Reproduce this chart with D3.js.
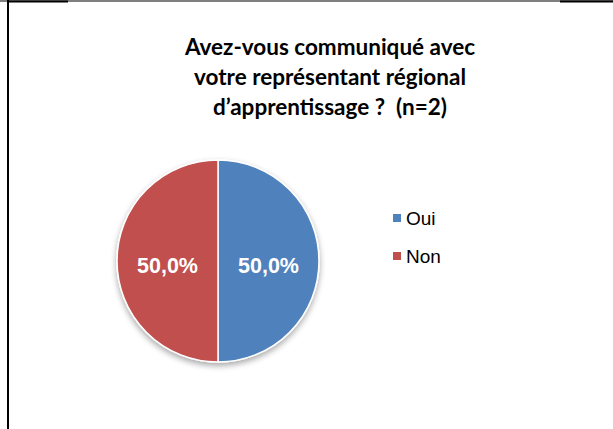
<!DOCTYPE html>
<html>
<head>
<meta charset="utf-8">
<title>Avez-vous communiqué avec votre représentant régional d'apprentissage ?</title>
<script src="https://cdn.jsdelivr.net/npm/d3@7"></script>
<style>
  body { margin: 0; background: #fff; }
  svg { display: block; }
  .title { font-family: Lato, "Open Sans", sans-serif; font-weight: bold; font-size: 22.5px; fill: #000; white-space: pre; }
  .slice-label { font-family: "Liberation Sans", Arial, sans-serif; font-weight: bold; font-size: 21.5px; fill: #fff; }
  .legend text { font-family: "Liberation Sans", Arial, sans-serif; font-size: 19px; fill: #000; }
</style>
</head>
<body>
<svg width="613" height="429"></svg>
<script>
var categories = ['Oui', 'Non']
var values = [1, 1]
var labels = ['50,0%', '50,0%']
var colors = ['#4f81bd', '#c0504d']
var titleLines = ['Avez-vous communiqué avec', 'votre représentant régional', 'd\u2019apprentissage ?  (n=2)']

var svg = d3.select('svg')

// cadre (bord gauche + haut)
svg.append('line').attr('x1', 0).attr('x2', 613).attr('y1', 1).attr('y2', 1)
  .attr('stroke', '#000').attr('stroke-width', 1.2)
svg.append('line').attr('x1', 7).attr('x2', 68).attr('y1', 1.5).attr('y2', 1.5)
  .attr('stroke', '#000').attr('stroke-width', 2)
svg.append('line').attr('x1', 560).attr('x2', 613).attr('y1', 1.5).attr('y2', 1.5)
  .attr('stroke', '#000').attr('stroke-width', 2)
svg.append('line').attr('x1', 8).attr('x2', 8).attr('y1', 0).attr('y2', 429)
  .attr('stroke', '#000').attr('stroke-width', 2)

// titre
svg.append('g').selectAll('text')
  .data(titleLines)
  .enter()
  .append('text')
  .attr('class', 'title')
  .attr('x', 330)
  .attr('y', function(d, i) { return 55 + i * 30 })
  .attr('text-anchor', 'middle')
  .text(function(d) { return d })

// ombre
var defs = svg.append('defs')
var f = defs.append('filter').attr('id', 'shadow')
  .attr('x', '-20%').attr('y', '-20%').attr('width', '140%').attr('height', '150%')
f.append('feGaussianBlur').attr('in', 'SourceAlpha').attr('stdDeviation', 3)
f.append('feOffset').attr('dx', 0).attr('dy', 3).attr('result', 'blur')
f.append('feComponentTransfer').append('feFuncA').attr('type', 'linear').attr('slope', 0.35)
var merge = f.append('feMerge')
merge.append('feMergeNode')
merge.append('feMergeNode').attr('in', 'SourceGraphic')

var cx = 218, cy = 261, r = 101

var pie = d3.pie().sort(null)
var arcs = pie(values)
var arc = d3.arc().innerRadius(0).outerRadius(r)
var labelArc = d3.arc().innerRadius(r * 0.5).outerRadius(r * 0.5)

var g = svg.append('g').attr('transform', 'translate(' + cx + ',' + cy + ')')

g.append('g').attr('filter', 'url(#shadow)')
  .selectAll('path')
  .data(arcs)
  .enter()
  .append('path')
  .attr('d', arc)
  .attr('fill', function(d, i) { return colors[i] })
  .attr('stroke', '#fff')
  .attr('stroke-width', 1.5)

g.selectAll('text.slice-label')
  .data(arcs)
  .enter()
  .append('text')
  .attr('class', 'slice-label')
  .attr('transform', function(d) {
    var c = labelArc.centroid(d)
    return 'translate(' + c[0] + ',' + (c[1] + 4) + ')'
  })
  .attr('text-anchor', 'middle')
  .attr('dy', '0.35em')
  .text(function(d, i) { return labels[i] })

// légende
var legend = svg.append('g').attr('class', 'legend')
  .attr('transform', 'translate(393,214)')
var item = legend.selectAll('g')
  .data(categories)
  .enter()
  .append('g')
  .attr('transform', function(d, i) { return 'translate(0,' + i * 38 + ')' })
item.append('rect').attr('width', 8).attr('height', 8)
  .attr('fill', function(d, i) { return colors[i] })
item.append('text').attr('x', 13).attr('y', 11).text(function(d) { return d })
</script>
</body>
</html>
